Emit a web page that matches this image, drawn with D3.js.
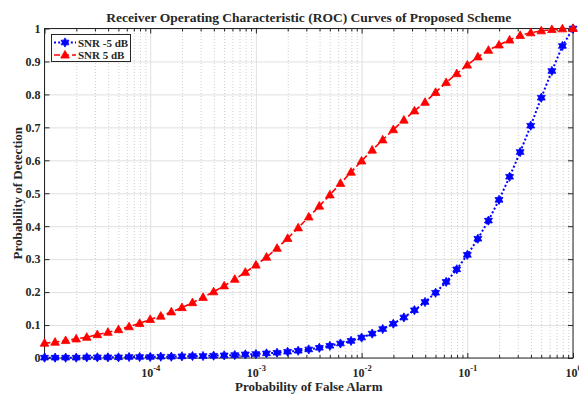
<!DOCTYPE html>
<html>
<head>
<meta charset="utf-8">
<script src="https://cdn.jsdelivr.net/npm/d3@7/dist/d3.min.js"></script>
<style>
  html, body { margin: 0; padding: 0; background: #ffffff; }
  svg { display: block; font-family: "Liberation Serif", "Times New Roman", serif; font-weight: bold; }
</style>
</head>
<body>
<svg id="chart" width="579" height="394"></svg>
<script>
// False-alarm probabilities, as base-10 exponents (10 points per decade)
const pfaExponent = [
  -5.0, -4.9, -4.8, -4.7, -4.6, -4.5, -4.4, -4.3, -4.2, -4.1,
  -4.0, -3.9, -3.8, -3.7, -3.6, -3.5, -3.4, -3.3, -3.2, -3.1,
  -3.0, -2.9, -2.8, -2.7, -2.6, -2.5, -2.4, -2.3, -2.2, -2.1,
  -2.0, -1.9, -1.8, -1.7, -1.6, -1.5, -1.4, -1.3, -1.2, -1.1,
  -1.0, -0.9, -0.8, -0.7, -0.6, -0.5, -0.4, -0.3, -0.2, -0.1, 0.0
];

// Detection probability at SNR = -5 dB
const pdSnrMinus5 = [
  0.001, 0.001, 0.001, 0.001, 0.002, 0.002, 0.002, 0.002, 0.003, 0.003,
  0.003, 0.004, 0.004, 0.005, 0.006, 0.006, 0.007, 0.008, 0.009, 0.011,
  0.012, 0.014, 0.016, 0.019, 0.022, 0.026, 0.031, 0.037, 0.044, 0.052,
  0.062, 0.074, 0.088, 0.104, 0.123, 0.145, 0.170, 0.198, 0.231, 0.269,
  0.313, 0.362, 0.417, 0.480, 0.550, 0.625, 0.705, 0.790, 0.871, 0.947, 1.000
];

// Detection probability at SNR = 5 dB
const pdSnr5 = [
  0.045, 0.048, 0.053, 0.058, 0.063, 0.071, 0.078, 0.086, 0.095, 0.105,
  0.117, 0.127, 0.140, 0.153, 0.168, 0.184, 0.201, 0.219, 0.239, 0.260,
  0.282, 0.306, 0.333, 0.363, 0.395, 0.428, 0.461, 0.495, 0.530, 0.564,
  0.598, 0.631, 0.662, 0.693, 0.722, 0.750, 0.776, 0.806, 0.836, 0.863,
  0.889, 0.914, 0.934, 0.950, 0.965, 0.979, 0.987, 0.993, 0.997, 0.999, 1.000
];

const seriesNames = ["SNR -5 dB", "SNR 5 dB"];
const yTicks = [0, 0.1, 0.2, 0.3, 0.4, 0.5, 0.6, 0.7, 0.8, 0.9, 1];
const yTickLabels = ["0", "0.1", "0.2", "0.3", "0.4", "0.5", "0.6", "0.7", "0.8", "0.9", "1"];
const xLabelExponents = [-4, -3, -2, -1, 0];

const titleText = "Receiver Operating Characteristic (ROC) Curves of Proposed Scheme";
const xAxisTitle = "Probability of False Alarm";
const yAxisTitle = "Probability of Detection";

// ---- layout ----
const W = 579, H = 394;
const plotL = 44.5, plotR = 573, plotT = 28.5, plotB = 358;
const plotW = plotR - plotL, plotH = plotB - plotT;
const axisColor = "#262626";

const x = d3.scaleLog().domain([1e-5, 1]).range([plotL, plotR]);
const y = d3.scaleLinear().domain([0, 1]).range([plotB, plotT]);

const pfa = pfaExponent.map(e => Math.pow(10, e));
const series = [
  { name: seriesNames[0], values: pdSnrMinus5, color: "#0000ff", dash: "2,2.2", width: 2, marker: "hexagram" },
  { name: seriesNames[1], values: pdSnr5, color: "#ff0000", dash: "6,3", width: 1.6, marker: "triangle" }
];

const svg = d3.select("#chart");

// log ticks: every integer multiple within each decade
const allXTicks = x.ticks();
const isDecade = v => Math.abs(Math.log10(v) - Math.round(Math.log10(v))) < 1e-9;
const majorX = allXTicks.filter(isDecade);
const minorX = allXTicks.filter(v => !isDecade(v));

// ---- grid ----
svg.append("g")
  .attr("transform", `translate(0,${plotB})`)
  .call(d3.axisBottom(x).tickValues(minorX).tickSize(-plotH).tickFormat(""))
  .call(g => g.select(".domain").remove())
  .selectAll("line")
  .attr("stroke", "#cfcfcf")
  .attr("stroke-dasharray", "1,2");

svg.append("g")
  .attr("transform", `translate(0,${plotB})`)
  .call(d3.axisBottom(x).tickValues(majorX).tickSize(-plotH).tickFormat(""))
  .call(g => g.select(".domain").remove())
  .selectAll("line")
  .attr("stroke", "#e0e0e0");

svg.append("g")
  .attr("transform", `translate(${plotL},0)`)
  .call(d3.axisLeft(y).tickValues(yTicks).tickSize(-plotW).tickFormat(""))
  .call(g => g.select(".domain").remove())
  .selectAll("line")
  .attr("stroke", "#e0e0e0");

// ---- inward tick marks on all four sides ----
function tickGroup(axis, tx, ty) {
  return svg.append("g")
    .attr("transform", `translate(${tx},${ty})`)
    .call(axis)
    .call(g => g.select(".domain").remove())
    .call(g => g.selectAll("line").attr("stroke", axisColor));
}
tickGroup(d3.axisBottom(x).tickValues(majorX).tickSize(-5).tickFormat(""), 0, plotB);
tickGroup(d3.axisBottom(x).tickValues(minorX).tickSize(-3).tickFormat(""), 0, plotB);
tickGroup(d3.axisTop(x).tickValues(majorX).tickSize(-5).tickFormat(""), 0, plotT);
tickGroup(d3.axisTop(x).tickValues(minorX).tickSize(-3).tickFormat(""), 0, plotT);
tickGroup(d3.axisRight(y).tickValues(yTicks).tickSize(-5).tickFormat(""), plotR, 0);

const yAxis = tickGroup(
  d3.axisLeft(y).tickValues(yTicks).tickSize(-5).tickPadding(4).tickFormat((d, i) => yTickLabels[i]),
  plotL, 0);
yAxis.selectAll("text")
  .attr("fill", axisColor)
  .style("font-family", "'Liberation Serif', serif")
  .style("font-weight", "bold")
  .style("font-size", "12px");

// axes box
svg.append("rect")
  .attr("x", plotL).attr("y", plotT)
  .attr("width", plotW).attr("height", plotH)
  .attr("fill", "none")
  .attr("stroke", axisColor)
  .attr("stroke-width", 1);

// x tick labels 10^n
const xLabels = svg.append("g");
xLabelExponents.forEach(e => {
  const t = xLabels.append("text")
    .attr("x", x(Math.pow(10, e)) + 0.5)
    .attr("y", 376.5)
    .attr("text-anchor", "middle")
    .attr("fill", axisColor)
    .style("font-size", "12px");
  t.append("tspan").text("10");
  t.append("tspan").attr("dy", -6).style("font-size", "8.5px").text(String(e));
});

// ---- markers ----
function hexagramPath(R) {
  const r = R / Math.sqrt(3);
  const pts = d3.range(12).map(i => {
    const a = (-90 + i * 30) * Math.PI / 180;
    const rad = i % 2 === 0 ? R : r;
    return [rad * Math.cos(a), rad * Math.sin(a)];
  });
  return "M" + pts.map(p => p.join(",")).join("L") + "Z";
}
function trianglePath(h, w) {
  return `M0,${-h * 0.6}L${w / 2},${h * 0.4}L${-w / 2},${h * 0.4}Z`;
}
const markerPath = {
  hexagram: hexagramPath(4.6),
  triangle: trianglePath(7.6, 8.6)
};

// ---- curves ----
const line = d3.line().x(d => x(d[0])).y(d => y(d[1]));
series.forEach(s => {
  const pts = pfa.map((p, i) => [p, s.values[i]]);
  const g = svg.append("g");
  g.append("path")
    .datum(pts)
    .attr("d", line)
    .attr("fill", "none")
    .attr("stroke", s.color)
    .attr("stroke-width", s.width)
    .attr("stroke-dasharray", s.dash);
  g.selectAll("path.mk")
    .data(pts)
    .join("path")
    .attr("class", "mk")
    .attr("d", markerPath[s.marker])
    .attr("transform", d => `translate(${x(d[0])},${y(d[1])})`)
    .attr("fill", s.color)
    .attr("stroke", s.color)
    .attr("stroke-width", 0.8);
});

// ---- legend ----
const leg = svg.append("g");
leg.append("rect")
  .attr("x", 51.5).attr("y", 34.5)
  .attr("width", 79).attr("height", 27)
  .attr("fill", "#ffffff")
  .attr("stroke", axisColor)
  .attr("stroke-width", 1);
series.forEach((s, i) => {
  const cy = 42.5 + i * 12.5;
  leg.append("line")
    .attr("x1", 54).attr("x2", 76)
    .attr("y1", cy).attr("y2", cy)
    .attr("stroke", s.color)
    .attr("stroke-width", s.width)
    .attr("stroke-dasharray", s.dash);
  leg.append("path")
    .attr("d", markerPath[s.marker])
    .attr("transform", `translate(65,${cy})`)
    .attr("fill", s.color)
    .attr("stroke", s.color)
    .attr("stroke-width", 0.8);
  leg.append("text")
    .attr("x", 78)
    .attr("y", cy + 4)
    .attr("fill", axisColor)
    .style("font-size", "11px")
    .text(s.name);
});

// ---- titles ----
svg.append("text")
  .attr("x", (plotL + plotR) / 2)
  .attr("y", 22)
  .attr("text-anchor", "middle")
  .attr("fill", axisColor)
  .style("font-size", "13.5px")
  .text(titleText);

svg.append("text")
  .attr("x", (plotL + plotR) / 2)
  .attr("y", 391)
  .attr("text-anchor", "middle")
  .attr("fill", axisColor)
  .style("font-size", "13px")
  .text(xAxisTitle);

svg.append("text")
  .attr("transform", `translate(22,${(plotT + plotB) / 2}) rotate(-90)`)
  .attr("text-anchor", "middle")
  .attr("fill", axisColor)
  .style("font-size", "13px")
  .text(yAxisTitle);
</script>
</body>
</html>
